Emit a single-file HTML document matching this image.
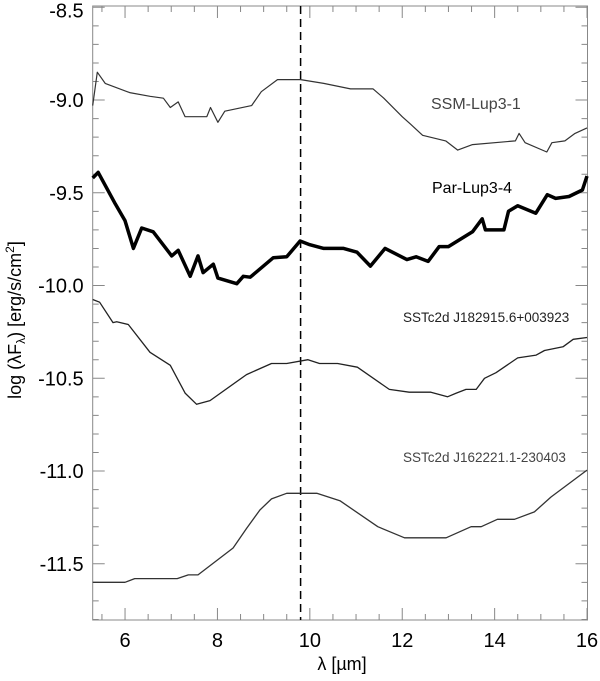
<!DOCTYPE html>
<html><head><meta charset="utf-8"><style>
body{margin:0;background:#fff;width:600px;height:676px;overflow:hidden}
svg{font-family:"Liberation Sans",sans-serif}
</style></head><body>
<svg id="chart" width="600" height="676" xmlns="http://www.w3.org/2000/svg"></svg>
<script>
const xTicks=[6,8,10,12,14,16];
const yTicks=[-8.5,-9.0,-9.5,-10.0,-10.5,-11.0,-11.5];
const yTickLabels=["-8.5","-9.0","-9.5","-10.0","-10.5","-11.0","-11.5"];
const ssmX=[5.3,5.4,5.57,6.1,6.54,6.83,6.98,7.15,7.3,7.77,7.85,8.01,8.16,8.74,8.95,9.3,9.8,10.3,10.88,11.37,11.6,12.0,12.18,12.44,12.94,13.2,13.52,14.45,14.53,14.66,15.13,15.24,15.52,15.74,16.0];
const ssmY=[-9.03,-8.85,-8.91,-8.96,-8.98,-8.99,-9.04,-9.01,-9.09,-9.09,-9.04,-9.12,-9.06,-9.03,-8.955,-8.89,-8.89,-8.91,-8.94,-8.94,-8.99,-9.09,-9.13,-9.19,-9.22,-9.27,-9.24,-9.22,-9.18,-9.23,-9.28,-9.23,-9.22,-9.18,-9.15];
const parX=[5.3,5.42,5.79,6.0,6.18,6.36,6.61,7.01,7.15,7.41,7.58,7.69,7.91,8.01,8.42,8.56,8.71,9.21,9.5,9.79,10.0,10.3,10.73,11.02,11.31,11.63,12.1,12.3,12.56,12.8,13.0,13.52,13.73,13.8,14.2,14.3,14.5,14.89,15.14,15.32,15.61,15.9,16.0];
const parY=[-9.42,-9.39,-9.56,-9.65,-9.8,-9.69,-9.71,-9.84,-9.81,-9.95,-9.84,-9.93,-9.885,-9.96,-9.99,-9.95,-9.955,-9.85,-9.845,-9.76,-9.78,-9.8,-9.8,-9.82,-9.895,-9.8,-9.86,-9.845,-9.87,-9.79,-9.79,-9.71,-9.64,-9.7,-9.7,-9.6,-9.57,-9.61,-9.51,-9.53,-9.52,-9.485,-9.41];
const s1X=[5.3,5.45,5.74,5.82,6.07,6.54,6.98,7.3,7.55,7.84,8.63,9.17,9.5,9.96,10.21,10.6,11.03,11.72,12.15,12.62,12.98,13.17,13.38,13.6,13.78,14.03,14.5,14.9,15.08,15.48,15.7,16.0];
const s1Y=[-10.075,-10.09,-10.2,-10.195,-10.21,-10.36,-10.43,-10.58,-10.64,-10.62,-10.48,-10.42,-10.42,-10.4,-10.42,-10.42,-10.44,-10.56,-10.575,-10.575,-10.6,-10.58,-10.56,-10.56,-10.5,-10.47,-10.39,-10.375,-10.35,-10.33,-10.29,-10.28];
const s2X=[5.3,6.0,6.21,7.13,7.37,7.58,8.34,8.63,8.92,9.17,9.5,10.15,10.65,11.47,12.05,12.95,13.49,13.71,14.06,14.43,14.86,15.22,16.0];
const s2Y=[-11.6,-11.6,-11.58,-11.58,-11.56,-11.56,-11.415,-11.31,-11.21,-11.15,-11.12,-11.12,-11.16,-11.3,-11.36,-11.36,-11.3,-11.3,-11.26,-11.26,-11.22,-11.14,-10.995];
const NS="http://www.w3.org/2000/svg",svg=document.getElementById('chart');
const L=92.7,R=587.5,T=6,B=620,xmin=5.3,xmax=16.01,ymax=-8.493,ymin=-11.803;
const X=v=>L+(v-xmin)/(xmax-xmin)*(R-L), Y=v=>T+(ymax-v)/(ymax-ymin)*(B-T);
function mk(t,a,txt){const e=document.createElementNS(NS,t);for(const k in a)e.setAttribute(k,a[k]);if(txt!==undefined)e.textContent=txt;svg.appendChild(e);return e;}
let e=mk('rect',{x:L,y:T,width:R-L,height:B-T,fill:'none',stroke:'#888','stroke-width':1});


for(let v=5.5;v<=16.001;v+=0.5){const maj=Math.abs(v/2-Math.round(v/2))<1e-6;const len=maj?12:6;
 e=mk('path',{d:`M${X(v)},${B}v${-len}M${X(v)},${T}v${len}`,stroke:'#888','stroke-width':1});
 
 }
for(let i=0;i<=33;i++){const v=-8.5-i*0.1;const maj=i%5==0;const len=maj?12:6;
 e=mk('path',{d:`M${L},${Y(v)}h${len}M${R},${Y(v)}h${-len}`,stroke:'#888','stroke-width':1});
 
 }
xTicks.forEach(v=>{e=mk('text',{x:X(v),y:647,'font-size':20,'text-anchor':'middle',fill:'#000'},String(v));
 
 });
yTicks.forEach((v,i)=>{e=mk('text',{x:L-9,y:Y(v)+(i==0?10:7),'font-size':20,'text-anchor':'end',fill:'#000'},yTickLabels[i]);
 
 });
e=mk('text',{x:342,y:670,'font-size':18,'text-anchor':'middle'},'λ [µm]');


e=mk('text',{x:0,y:0,'font-size':18,'text-anchor':'middle',transform:'translate(21,320) rotate(-90)'});
e.innerHTML='log (λF<tspan font-size="12" dy="4">λ</tspan><tspan dy="-4">) [erg/s/cm</tspan><tspan font-size="12" dy="-7">2</tspan><tspan dy="7">]</tspan>';


e=mk('line',{x1:X(9.8),x2:X(9.8),y1:T,y2:B,stroke:'#000','stroke-width':1.5,'stroke-dasharray':'8,5'});


function series(xs,ys,w,c,name){const d=xs.map((x,i)=>(i?'L':'M')+X(x).toFixed(1)+','+Y(ys[i]).toFixed(1)).join('');
 const p=mk('path',{d,fill:'none',stroke:c,'stroke-width':w,'stroke-linejoin':'round'});
 
 }
series(ssmX,ssmY,1.2,'#333','ssm-lup3-1-line');
series(parX,parY,3.5,'#000','par-lup3-4-line');
series(s1X,s1Y,1.3,'#222','sstc2d-j182915-line');
series(s2X,s2Y,1.3,'#333','sstc2d-j162221-line');
function lab(x,y,s,c,t,n){const q=mk('text',{x,y,'font-size':s,fill:c},t);
 
 }
lab(431,109,16,'#444','SSM-Lup3-1','label-ssm-lup3-1');
lab(432,193,16,'#000','Par-Lup3-4','label-par-lup3-4');
lab(403,322,13.5,'#222','SSTc2d J182915.6+003923','label-sstc2d-j182915');
lab(403,462,13.5,'#444','SSTc2d J162221.1-230403','label-sstc2d-j162221');
</script>
</body></html>
